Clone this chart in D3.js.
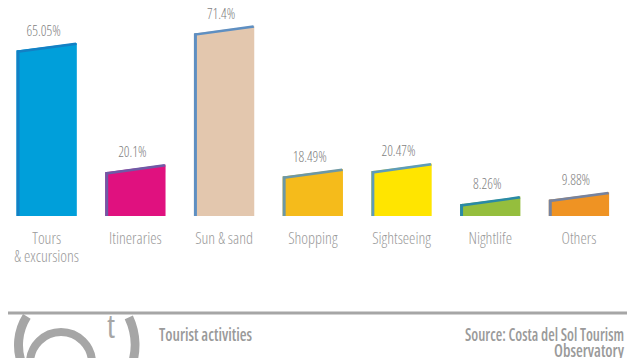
<!DOCTYPE html>
<html>
<head>
<meta charset="utf-8">
<script src="https://cdn.jsdelivr.net/npm/d3@7/dist/d3.min.js"></script>
<style>
  body { margin: 0; background: #fff; }
  svg { display: block; }
  .lbl { font-family: "Open Sans", sans-serif; font-stretch: 75%; font-weight: 300; }
  .foot { font-family: "Open Sans", sans-serif; font-stretch: 75%; font-weight: 600; }
</style>
</head>
<body>
<div id="chart"></div>
<script>
const categories = ['Tours\n& excursions', 'Itineraries', 'Sun & sand', 'Shopping', 'Sightseeing', 'Nightlife', 'Others'];
const values = [65.05, 20.1, 71.4, 18.49, 20.47, 8.26, 9.88];
const valueLabels = ['65.05%', '20.1%', '71.4%', '18.49%', '20.47%', '8.26%', '9.88%'];
const fills = ['#009fda', '#e0117f', '#e3c7ae', '#f5bb1b', '#ffe500', '#95be3d', '#ef9323'];
const edges = ['#1380c4', '#6e5aa6', '#5e8fc2', '#6c98a6', '#5d9cba', '#2a8aa6', '#76839f'];

const width = 627, height = 358;
const baseY = 216;
const tilt = 3.8;
const grey = '#a6a6a6';

const svg = d3.select('#chart').append('svg')
    .attr('width', width)
    .attr('height', height);

const x = d3.scaleBand()
    .domain(categories)
    .range([2.3, 623.3])
    .paddingInner(0.32)
    .paddingOuter(0.16);

const y = d3.scaleLinear()
    .domain([2.5, 72])
    .range([baseY, 28]);

const bars = svg.append('g')
    .selectAll('g')
    .data(categories)
    .enter().append('g');

// main face
bars.append('path')
    .attr('d', (d, i) => {
        let x0 = x(d), x1 = x(d) + x.bandwidth(), m = y(values[i]);
        return 'M' + x0 + ',' + baseY + 'L' + x0 + ',' + (m + tilt) + 'L' + x1 + ',' + (m - tilt) + 'L' + x1 + ',' + baseY + 'Z';
    })
    .attr('fill', (d, i) => fills[i]);

// left side strip
bars.append('path')
    .attr('d', (d, i) => {
        let x0 = x(d), m = y(values[i]);
        return 'M' + x0 + ',' + baseY + 'L' + x0 + ',' + (m + tilt) + 'L' + (x0 + 3) + ',' + (m + tilt - 0.4) + 'L' + (x0 + 3) + ',' + baseY + 'Z';
    })
    .attr('fill', (d, i) => edges[i]);

// top edge
bars.append('path')
    .attr('d', (d, i) => {
        let x0 = x(d), x1 = x(d) + x.bandwidth(), m = y(values[i]);
        return 'M' + x0 + ',' + (m + tilt) + 'L' + (x1 - 1) + ',' + (m - tilt - 0.5) + 'L' + x1 + ',' + (m - tilt + 2) + 'L' + (x0 + 3) + ',' + (m + tilt + 2.2) + 'Z';
    })
    .attr('fill', (d, i) => edges[i]);

// value labels
bars.append('text')
    .attr('class', 'lbl')
    .attr('x', d => x(d) + x.bandwidth() / 2 - 3)
    .attr('y', (d, i) => y(values[i]) - 11)
    .attr('text-anchor', 'middle')
    .style('font-size', '14px')
    .style('fill', '#7f7f7f')
    .text((d, i) => valueLabels[i]);

// category labels
bars.append('text')
    .attr('class', 'lbl')
    .attr('text-anchor', 'middle')
    .style('font-size', '16px')
    .style('fill', '#9a9a9a')
    .selectAll('tspan')
    .data(d => d.split('\n').map(t => ({t, d})))
    .enter().append('tspan')
    .attr('x', o => x(o.d) + x.bandwidth() / 2)
    .attr('y', (o, j) => 244 + j * 18)
    .text(o => o.t);

// footer
const foot = svg.append('g');
foot.append('line')
    .attr('x1', 8).attr('x2', width)
    .attr('y1', 313).attr('y2', 313)
    .attr('stroke', grey)
    .attr('stroke-width', 3);

// logo: ring, two brackets and a "t"
foot.append('circle')
    .attr('cx', 61).attr('cy', 363).attr('r', 31)
    .attr('fill', 'none')
    .attr('stroke', grey)
    .attr('stroke-width', 8);

const bracket = (cx, cy, r, a0, a1) => {
    let p = d3.path();
    p.arc(cx, cy, r, a0, a1, a1 < a0);
    return p.toString();
};
foot.append('path')
    .attr('d', bracket(72, 345, 53.5, -Math.PI * 0.82, -Math.PI * 1.12))
    .attr('fill', 'none')
    .attr('stroke', grey)
    .attr('stroke-width', 9);
foot.append('path')
    .attr('d', bracket(70, 345, 65, -Math.PI * 0.14, Math.PI * 0.12))
    .attr('fill', 'none')
    .attr('stroke', grey)
    .attr('stroke-width', 9);
foot.append('text')
    .attr('class', 'lbl')
    .attr('x', 111).attr('y', 338)
    .attr('text-anchor', 'middle')
    .style('font-size', '32px')
    .style('font-weight', '400')
    .style('fill', grey)
    .text('t');

const footStyle = sel => sel
    .attr('class', 'foot')
    .attr('lengthAdjust', 'spacingAndGlyphs')
    .style('font-size', '18px')
    .style('fill', '#9a9a9a');

foot.append('text')
    .call(footStyle)
    .attr('x', 159).attr('y', 341)
    .attr('textLength', 93)
    .text('Tourist activities');

foot.append('text')
    .call(footStyle)
    .attr('x', 465).attr('y', 341)
    .attr('textLength', 159)
    .text('Source: Costa del Sol Tourism');

foot.append('text')
    .call(footStyle)
    .attr('x', 554).attr('y', 357)
    .attr('textLength', 70)
    .text('Observatory');
</script>
</body>
</html>
